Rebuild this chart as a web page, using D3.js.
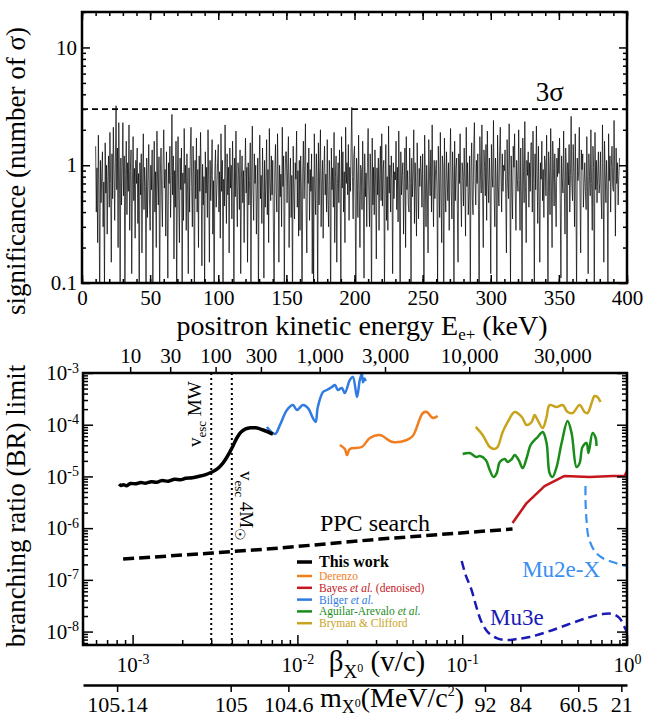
<!DOCTYPE html>
<html>
<head>
<meta charset="utf-8">
<script src="https://cdn.jsdelivr.net/npm/d3@7"></script>
<style>
    body { margin: 0; background: #fff; }
</style>
</head>
<body>
<div id="chart"></div>
<script>
//Panel superior: significancia (número de sigma) cada 0.5 keV desde E_START
const E_START = 10, E_STEP = 0.5;
const significance = [
    1.45, 0.40, 0.95, 0.22, 1.80, 0.65, 0.06, 1.10, 0.48, 0.85, 1.30, 0.30, 0.72, 0.09, 1.55, 0.58, 1.00, 0.26, 0.80, 1.20,
    0.44, 1.90, 0.70, 0.15, 1.25, 0.52, 2.10, 0.88, 0.34, 1.05, 3.20, 0.62, 1.40, 0.20, 2.30, 0.75, 0.08, 1.15, 0.46, 0.95,
    2.30, 0.55, 1.20, 0.07, 0.82, 1.60, 0.38, 1.05, 0.60, 2.20, 0.28, 0.90, 1.35, 0.12, 0.68, 1.75, 0.50, 0.94, 0.24, 1.10,
    0.70, 1.40, 0.32, 0.85, 0.05, 1.05, 0.56, 1.25, 0.18, 0.78, 1.85, 0.42, 0.96, 0.66, 0.10, 1.15, 0.36, 0.74, 1.50, 0.52,
    0.28, 1.00, 0.62, 1.35, 0.09, 0.58, 1.60, 0.40, 0.88, 0.20, 1.95, 0.72, 0.46, 1.18, 0.06, 0.84, 1.40, 0.54, 0.30, 1.05,
    2.00, 0.64, 0.92, 0.25, 1.30, 0.48, 0.11, 1.05, 0.70, 1.45, 0.36, 0.82, 2.70, 0.56, 1.20, 0.16, 0.90, 0.44, 1.60, 0.07,
    0.78, 1.75, 0.50, 0.22, 1.15, 0.62, 1.40, 0.08, 0.86, 0.34, 2.05, 0.70, 1.00, 0.28, 1.25, 0.58, 0.12, 0.95, 0.40, 1.30,
    2.10, 0.66, 0.30, 1.45, 0.84, 0.06, 1.10, 0.52, 1.70, 0.40, 0.92, 0.20, 1.20, 0.60, 1.90, 0.74, 0.14, 1.02, 0.46, 0.80,
    0.09, 1.30, 0.58, 0.96, 0.36, 2.00, 0.68, 0.15, 1.10, 0.50, 0.82, 1.65, 0.26, 0.74, 0.05, 0.90, 1.35, 0.44, 0.62, 1.05,
    1.50, 0.40, 0.88, 0.24, 1.85, 0.60, 1.10, 0.10, 0.76, 0.45, 2.20, 0.80, 0.32, 1.25, 0.56, 0.96, 0.18, 1.40, 0.64, 1.00,
    0.35, 1.60, 0.72, 0.07, 1.15, 0.54, 1.95, 0.66, 0.30, 1.05, 0.84, 0.42, 1.35, 0.12, 0.78, 1.20, 0.48, 0.90, 0.22, 0.80,
    1.70, 0.58, 0.96, 0.15, 1.05, 0.46, 0.74, 1.55, 0.08, 0.86, 2.15, 0.62, 0.34, 1.25, 0.70, 1.00, 0.26, 0.58, 1.15, 0.07,
    0.95, 1.80, 0.52, 0.82, 0.32, 1.40, 0.64, 0.11, 1.10, 0.44, 0.75, 1.65, 0.38, 0.92, 0.22, 2.05, 0.70, 0.50, 1.20, 0.56,
    1.10, 0.28, 0.06, 0.88, 1.50, 0.60, 0.40, 1.85, 0.76, 0.15, 1.00, 0.54, 0.84, 0.30, 2.10, 0.66, 1.20, 0.09, 0.72, 1.30,
    1.30, 0.48, 0.94, 1.75, 0.20, 0.68, 1.15, 0.36, 0.82, 0.07, 1.45, 0.58, 0.35, 1.05, 0.76, 1.95, 0.44, 0.90, 0.25, 1.10,
    0.28, 1.20, 0.62, 0.05, 0.86, 1.60, 0.52, 1.00, 2.25, 0.40, 0.18, 1.05, 0.70, 1.40, 0.34, 0.92, 0.60, 1.25, 0.12, 0.80,
    0.10, 1.85, 0.66, 0.38, 1.25, 0.78, 0.08, 1.55, 0.46, 0.96, 2.00, 0.30, 0.72, 1.10, 0.24, 0.90, 1.45, 0.56, 0.84, 0.40,
    1.65, 0.52, 0.30, 1.10, 0.74, 0.06, 1.40, 0.62, 0.95, 0.44, 1.90, 0.22, 0.80, 1.20, 0.15, 0.70, 1.05, 0.48, 1.35, 0.58,
    0.09, 1.75, 0.64, 1.30, 0.40, 0.88, 0.22, 2.10, 0.70, 1.05, 0.56, 1.50, 0.34, 0.96, 0.60, 1.40, 3.10, 0.80, 0.35, 1.20,
    1.45, 0.50, 0.07, 1.15, 0.78, 0.36, 1.80, 0.62, 0.20, 1.00, 0.92, 0.42, 1.60, 0.66, 0.11, 1.25, 0.54, 0.86, 0.30, 1.05,
    2.05, 0.60, 0.30, 1.25, 0.82, 0.06, 1.70, 0.46, 0.96, 0.38, 1.35, 0.72, 0.16, 0.95, 0.56, 1.15, 0.28, 0.84, 1.45, 0.50,
    1.85, 0.45, 0.90, 1.10, 0.08, 0.66, 1.50, 0.34, 0.80, 0.28, 2.15, 0.58, 1.00, 0.40, 1.20, 0.74, 0.12, 1.05, 0.52, 0.88,
    0.75, 1.60, 0.42, 0.96, 0.33, 1.95, 0.64, 0.05, 1.30, 0.56, 0.82, 1.05, 0.26, 0.70, 1.40, 0.20, 1.75, 0.62, 0.90, 0.46,
    0.40, 1.40, 0.70, 0.09, 1.15, 0.54, 0.86, 2.00, 0.32, 1.05, 0.60, 0.25, 1.55, 0.78, 0.35, 0.94, 0.66, 1.20, 0.85, 0.44,
    1.25, 0.48, 0.07, 1.80, 0.72, 0.30, 1.00, 0.58, 0.18, 1.65, 0.84, 0.55, 1.35, 0.40, 2.20, 0.68, 0.30, 1.10, 0.52, 0.92,
    1.10, 0.62, 0.10, 1.45, 0.80, 0.36, 1.90, 0.56, 0.22, 1.20, 0.96, 0.06, 1.70, 0.64, 0.40, 1.30, 0.76, 0.50, 1.05, 0.28,
    0.95, 2.05, 0.60, 0.35, 1.30, 0.78, 0.08, 1.60, 0.50, 0.94, 1.15, 0.42, 0.15, 1.25, 0.70, 1.85, 0.62, 0.30, 1.05, 0.86,
    0.45, 1.40, 0.74, 0.25, 2.10, 0.66, 1.05, 0.38, 0.60, 1.20, 0.09, 0.88, 1.55, 0.52, 0.38, 1.35, 2.30, 0.72, 0.46, 1.10,
    0.70, 1.25, 0.42, 0.05, 1.75, 0.84, 0.58, 2.20, 0.62, 0.20, 1.35, 0.96, 0.55, 1.50, 0.34, 1.95, 0.76, 0.48, 1.15, 0.68,
    0.12, 1.50, 0.82, 0.65, 2.40, 0.56, 0.30, 1.15, 0.74, 0.07, 1.80, 0.66, 0.45, 1.30, 2.10, 0.86, 0.40, 1.25, 0.60, 1.00,
    0.90, 1.35, 0.52, 0.18, 1.65, 0.70, 0.52, 2.25, 0.80, 0.10, 1.20, 0.62, 0.35, 1.45, 0.96, 1.85, 0.58, 0.28, 1.10, 0.76,
    0.60, 2.00, 0.74, 0.28, 1.40, 0.54, 0.06, 1.70, 0.88, 0.48, 2.35, 0.66, 0.22, 1.10, 0.82, 1.30, 0.44, 1.05, 0.60, 1.55,
    1.55, 0.40, 1.95, 0.70, 0.09, 1.25, 0.62, 2.15, 0.84, 0.32, 1.45, 0.56, 0.15, 1.05, 0.76, 1.60, 0.50, 0.92, 0.36, 1.20,
    1.05, 0.55, 1.80, 0.66, 0.07, 1.30, 0.88, 0.38, 2.05, 0.72, 0.20, 1.60, 0.94, 0.45, 1.25, 0.58, 0.30, 1.15, 0.80, 1.40,
    0.85, 1.70, 0.48, 0.11, 1.20, 0.76, 0.58, 1.95, 0.64, 0.26, 1.40, 0.90, 0.05, 1.05, 0.68, 1.50, 0.40, 0.82, 2.60, 0.70,
    0.50, 1.50, 0.86, 0.30, 1.85, 0.62, 0.08, 1.15, 0.74, 0.88, 2.10, 0.56, 0.18, 1.35, 0.92, 1.25, 0.44, 0.70, 1.05, 0.60,
    0.42, 1.75, 0.66, 0.12, 1.25, 0.80, 0.55, 2.00, 0.70, 0.28, 1.45, 0.96, 0.06, 1.90, 0.62, 1.10, 0.48, 0.84, 1.30, 0.58,
    0.70, 1.30, 0.52, 0.35, 2.20, 0.78, 0.15, 1.60, 0.86, 0.48, 1.10, 0.64, 0.09, 1.85, 0.74, 1.20, 0.40, 0.96, 1.45, 0.66,
    0.60, 2.40, 0.82, 0.25, 1.40, 0.70, 1.05, 0.46, 0.80, 1.15
];
const SIGMA_LEVEL = 3;
const energyTicks = [0, 50, 100, 150, 200, 250, 300, 350, 400];
const sigTicks = [0.1, 1, 10];
const sigLabels = ['0.1', '1', '10'];

//Panel inferior: pares [beta, BR]
const thisWork = [
    [8.28e-4, 7.1e-6], [8.5e-4, 6.7e-6], [8.8e-4, 6.9e-6], [9.2e-4, 6.6e-6], [9.7e-4, 7.3e-6],
    [1.05e-3, 7.2e-6], [1.12e-3, 7.6e-6], [1.2e-3, 7.4e-6], [1.3e-3, 7.9e-6], [1.4e-3, 7.7e-6],
    [1.5e-3, 8.3e-6], [1.65e-3, 8.1e-6], [1.8e-3, 8.8e-6], [1.95e-3, 8.6e-6], [2.1e-3, 9.2e-6],
    [2.3e-3, 9.4e-6], [2.5e-3, 1.0e-5], [2.75e-3, 1.07e-5], [3.03e-3, 1.22e-5], [3.25e-3, 1.38e-5],
    [3.45e-3, 1.65e-5], [3.65e-3, 2.1e-5], [3.85e-3, 2.8e-5], [4.05e-3, 3.8e-5], [4.3e-3, 5.6e-5],
    [4.55e-3, 7.2e-5], [4.85e-3, 8.3e-5], [5.2e-3, 8.7e-5], [5.6e-3, 8.7e-5], [6.2e-3, 7.9e-5],
    [7.1e-3, 6.6e-5]
];
const ppcSearch = [[8.76e-4, 2.52e-7], [3.03e-3, 3.3e-7], [7.83e-3, 4.12e-7], [3.16e-2, 6.15e-7], [0.202, 9.62e-7]];
const derenzo = [
    [1.81e-2, 4.05e-5], [1.94e-2, 3.39e-5], [2.0e-2, 2.59e-5], [2.08e-2, 3.39e-5], [2.46e-2, 3.71e-5],
    [2.75e-2, 5.53e-5], [3.16e-2, 6.32e-5], [3.79e-2, 4.63e-5], [4.61e-2, 5.06e-5], [5.01e-2, 6.04e-5],
    [5.77e-2, 1.68e-4], [6.10e-2, 1.76e-4], [6.63e-2, 1.35e-4], [7.10e-2, 1.47e-4]
];
const bayes = [[0.202, 1.26e-6], [0.246, 3.05e-6], [0.316, 6.52e-6], [0.418, 1.02e-5], [0.593, 9.73e-6], [0.817, 1.02e-5], [0.966, 1.02e-5], [1.0, 1.27e-5]];
const bilger = [
    [6.53e-3, 9.0e-5], [7.31e-3, 6.6e-5], [7.84e-3, 9.9e-5], [8.64e-3, 1.92e-4], [9.39e-3, 2.40e-4],
    [9.93e-3, 1.92e-4], [1.08e-2, 2.40e-4], [1.16e-2, 2.10e-4], [1.24e-2, 1.35e-4], [1.29e-2, 1.13e-4],
    [1.33e-2, 2.20e-4], [1.43e-2, 4.29e-4], [1.51e-2, 4.69e-4], [1.62e-2, 5.36e-4], [1.69e-2, 5.86e-4],
    [1.76e-2, 4.69e-4], [1.86e-2, 5.13e-4], [1.94e-2, 4.10e-4], [2.08e-2, 7.33e-4], [2.17e-2, 8.37e-4],
    [2.30e-2, 3.43e-4], [2.39e-2, 7.33e-4], [2.46e-2, 9.8e-4], [2.50e-2, 6.6e-4], [2.55e-2, 7.8e-4],
    [2.60e-2, 7.0e-4]
];
const aguilar = [
    [0.1007, 2.71e-5], [0.111, 2.84e-5], [0.122, 2.37e-5], [0.128, 2.48e-5], [0.139, 2.08e-5],
    [0.147, 1.33e-5], [0.155, 9.73e-6], [0.162, 1.16e-5], [0.169, 1.90e-5], [0.181, 2.17e-5],
    [0.189, 1.90e-5], [0.200, 2.17e-5], [0.208, 2.59e-5], [0.220, 2.08e-5], [0.233, 1.45e-5],
    [0.246, 2.27e-5], [0.260, 4.05e-5], [0.275, 5.06e-5], [0.287, 5.78e-5], [0.308, 7.22e-5],
    [0.325, 4.43e-5], [0.339, 1.16e-5], [0.353, 9.73e-6], [0.374, 1.52e-5], [0.401, 4.43e-5],
    [0.436, 1.18e-4], [0.461, 6.90e-5], [0.494, 1.52e-5], [0.516, 1.82e-5], [0.537, 3.71e-5],
    [0.568, 4.43e-5], [0.584, 2.84e-5], [0.618, 6.90e-5], [0.645, 5.53e-5], [0.653, 3.87e-5]
];
const bryman = [
    [0.1208, 9.04e-5], [0.133, 6.32e-5], [0.147, 3.71e-5], [0.157, 3.39e-5], [0.164, 3.71e-5],
    [0.176, 7.22e-5], [0.189, 1.13e-4], [0.208, 1.76e-4], [0.230, 1.41e-4], [0.246, 9.86e-5],
    [0.264, 1.13e-4], [0.275, 1.54e-4], [0.287, 1.23e-4], [0.308, 8.63e-5], [0.325, 1.41e-4],
    [0.339, 2.40e-4], [0.374, 2.20e-4], [0.407, 2.40e-4], [0.436, 1.76e-4], [0.468, 1.68e-4],
    [0.516, 2.40e-4], [0.553, 1.76e-4], [0.576, 1.68e-4], [0.610, 2.63e-4], [0.636, 3.59e-4],
    [0.662, 3.43e-4], [0.691, 2.75e-4]
];
const mu3e = [
    [0.0993, 2.31e-7], [0.105, 1.24e-7], [0.114, 6.35e-8], [0.122, 2.98e-8], [0.131, 1.53e-8],
    [0.143, 9.78e-9], [0.162, 7.48e-9], [0.186, 6.85e-9], [0.214, 7.16e-9], [0.256, 7.83e-9],
    [0.325, 9.78e-9], [0.430, 1.34e-8], [0.568, 1.82e-8], [0.711, 2.18e-8], [0.817, 2.18e-8],
    [0.901, 1.82e-8], [0.966, 1.22e-8], [1.0, 9.8e-9]
];
const mu2eX = [
    [0.560, 6.52e-6], [0.560, 3.50e-6], [0.568, 1.44e-6], [0.584, 6.73e-7], [0.636, 3.61e-7],
    [0.711, 2.64e-7], [0.817, 2.21e-7], [0.940, 1.93e-7], [1.0, 1.85e-7]
];
const VESC_MW = 3.0e-3, VESC_4M = 4.0e-3;
const keTicks = [10, 30, 100, 300, 1000, 3000, 10000, 30000];
const massTicks = [105.14, 105, 104.6, 92, 84, 60.5, 21];

//Colores
const C_DERENZO = '#f07d1e', C_BAYES = '#c4161c', C_BILGER = '#2f7be0',
    C_AGUILAR = '#1a8c1a', C_BRYMAN = '#c9a31b', C_MU3E = '#1a1ab5', C_MU2E = '#3a8ff0';
const FONT = 'Liberation Serif';

//Cinemática mu+ -> e+ X0 (MeV)
const M_MU = 105.658, M_E = 0.511;
function betaFromMass(m) {
    let a = M_MU * M_MU;
    let p = Math.sqrt((a - (m + M_E) ** 2) * (a - (m - M_E) ** 2)) / (2 * M_MU);
    let e = (a + m * m - M_E * M_E) / (2 * M_MU);
    return p / e;
}
function betaFromKE(tKeV) {
    let t = tKeV / 1000;
    let p = Math.sqrt(t * t + 2 * t * M_E);
    return p / (M_MU - t - M_E);
}

let svg = d3.select('#chart').append('svg')
    .attr('width', 645)
    .attr('height', 719)
    .attr('font-family', FONT);

function styleAxis(g) {
    g.select('.domain').remove();
    g.selectAll('.tick line').attr('stroke', '#000').attr('stroke-width', 1.5);
    g.attr('font-family', FONT).attr('font-size', 21);
    g.selectAll('.tick text').attr('fill', '#000');
}
function isDecade(v) {
    let l = Math.log10(v);
    return Math.abs(l - Math.round(l)) < 1e-6;
}
function powLabel(g) {
    g.selectAll('.tick text').each(function(d) {
        let t = d3.select(this);
        t.text(null);
        t.append('tspan').text('10');
        t.append('tspan').attr('dy', '-0.55em').attr('font-size', '14px').text(Math.round(Math.log10(d)));
    });
}

///// PANEL SUPERIOR
let xE = d3.scaleLinear().domain([0, 400]).range([82, 627]);
let yS = d3.scaleLog().domain([0.1, 20]).range([283, 12]);

svg.append('clipPath').attr('id', 'clipTop')
    .append('rect').attr('x', 82).attr('y', 12).attr('width', 545).attr('height', 271);

svg.append('path')
    .datum(significance)
    .attr('clip-path', 'url(#clipTop)')
    .attr('fill', 'none')
    .attr('stroke', '#000')
    .attr('stroke-width', 0.7)
    .attr('d', d3.line()
        .x(function(d, i) { return xE(E_START + i * E_STEP); })
        .y(function(d) { return yS(d); }));

svg.append('line')
    .attr('x1', xE(0)).attr('x2', xE(400))
    .attr('y1', yS(SIGMA_LEVEL)).attr('y2', yS(SIGMA_LEVEL))
    .attr('stroke', '#000').attr('stroke-width', 1.8).attr('stroke-dasharray', '6,4');

svg.append('text')
    .attr('x', xE(333)).attr('y', yS(SIGMA_LEVEL) - 8)
    .attr('font-size', 27)
    .text('3σ');

let minorE = d3.range(0, 401, 10);
let minorS = yS.ticks().filter(function(d) { return !isDecade(d); });

svg.append('g').attr('transform', 'translate(0,283)')
    .call(d3.axisBottom(xE).tickValues(minorE).tickSize(-4).tickFormat(''))
    .call(styleAxis);
svg.append('g').attr('transform', 'translate(0,283)')
    .call(d3.axisBottom(xE).tickValues(energyTicks).tickSize(-8).tickPadding(7))
    .call(styleAxis);
svg.append('g').attr('transform', 'translate(0,12)')
    .call(d3.axisTop(xE).tickValues(minorE).tickSize(-4).tickFormat(''))
    .call(styleAxis);
svg.append('g').attr('transform', 'translate(0,12)')
    .call(d3.axisTop(xE).tickValues(energyTicks).tickSize(-8).tickFormat(''))
    .call(styleAxis);
svg.append('g').attr('transform', 'translate(82,0)')
    .call(d3.axisLeft(yS).tickValues(minorS).tickSize(-4).tickFormat(''))
    .call(styleAxis);
svg.append('g').attr('transform', 'translate(82,0)')
    .call(d3.axisLeft(yS).tickValues(sigTicks).tickSize(-8).tickPadding(5)
        .tickFormat(function(d, i) { return sigLabels[i]; }))
    .call(styleAxis);
svg.append('g').attr('transform', 'translate(627,0)')
    .call(d3.axisRight(yS).tickValues(minorS).tickSize(-4).tickFormat(''))
    .call(styleAxis);
svg.append('g').attr('transform', 'translate(627,0)')
    .call(d3.axisRight(yS).tickValues(sigTicks).tickSize(-8).tickFormat(''))
    .call(styleAxis);

svg.append('rect')
    .attr('x', 82).attr('y', 12).attr('width', 545).attr('height', 271)
    .attr('fill', 'none').attr('stroke', '#000').attr('stroke-width', 2.5);

let tE = svg.append('text').attr('x', 362).attr('y', 335).attr('text-anchor', 'middle').attr('font-size', 28);
tE.append('tspan').text('positron kinetic energy E');
tE.append('tspan').attr('dy', 5).attr('font-size', 17).text('e+');
tE.append('tspan').attr('dy', -5).text(' (keV)');

svg.append('text')
    .attr('transform', 'translate(25,171) rotate(-90)')
    .attr('text-anchor', 'middle').attr('font-size', 27)
    .text('significance (number of σ)');

///// PANEL INFERIOR
let xB = d3.scaleLog().domain([5e-4, 1]).range([83, 627]);
let yB = d3.scaleLog().domain([5.5e-9, 1e-3]).range([645, 373]);

svg.append('clipPath').attr('id', 'clipBot')
    .append('rect').attr('x', 83).attr('y', 373).attr('width', 544).attr('height', 272);

let gB = svg.append('g').attr('clip-path', 'url(#clipBot)');

let lineLin = d3.line().x(function(d) { return xB(d[0]); }).y(function(d) { return yB(d[1]); });
let lineSmooth = d3.line().x(function(d) { return xB(d[0]); }).y(function(d) { return yB(d[1]); })
    .curve(d3.curveCatmullRom.alpha(0.5));

//Velocidades de escape
[VESC_MW, VESC_4M].forEach(function(v) {
    gB.append('line')
        .attr('x1', xB(v)).attr('x2', xB(v))
        .attr('y1', 373).attr('y2', 645)
        .attr('stroke', '#000').attr('stroke-width', 2).attr('stroke-dasharray', '2,3');
});

let curves = [
    { data: bryman, color: C_BRYMAN, w: 2.5, line: lineSmooth },
    { data: aguilar, color: C_AGUILAR, w: 2.5, line: lineSmooth },
    { data: derenzo, color: C_DERENZO, w: 2.5, line: lineSmooth },
    { data: bilger, color: C_BILGER, w: 2.5, line: lineSmooth },
    { data: bayes, color: C_BAYES, w: 2.5, line: lineLin },
    { data: ppcSearch, color: '#000', w: 3.5, line: lineLin, dash: '11,5' },
    { data: mu3e, color: C_MU3E, w: 2.5, line: lineSmooth, dash: '9,5' },
    { data: mu2eX, color: C_MU2E, w: 2.2, line: lineSmooth, dash: '9,5' },
    { data: thisWork, color: '#000', w: 3.5, line: lineSmooth }
];
curves.forEach(function(c) {
    gB.append('path')
        .datum(c.data)
        .attr('fill', 'none')
        .attr('stroke', c.color)
        .attr('stroke-width', c.w)
        .attr('stroke-linejoin', 'round')
        .attr('stroke-dasharray', c.dash || null)
        .attr('d', c.line);
});

//Textos dentro del gráfico
svg.append('text').attr('x', xB(1.37e-2)).attr('y', yB(8.8e-7)).attr('font-size', 24).text('PPC search');
svg.append('text').attr('x', xB(0.231)).attr('y', yB(1.13e-7)).attr('font-size', 23).attr('fill', C_MU2E).text('Mu2e-X');
svg.append('text').attr('x', xB(0.1475)).attr('y', yB(1.34e-8)).attr('font-size', 23).attr('fill', C_MU3E).text('Mu3e');

let tMW = svg.append('text')
    .attr('transform', 'translate(' + (xB(VESC_MW) - 10) + ',447) rotate(-90)')
    .attr('font-size', 19);
tMW.append('tspan').text('v');
tMW.append('tspan').attr('dy', 5).attr('font-size', 13).text('esc');
tMW.append('tspan').attr('dy', -5).text(' MW');

let t4M = svg.append('text')
    .attr('transform', 'translate(' + (xB(VESC_4M) + 8) + ',471) rotate(90)')
    .attr('font-size', 19);
t4M.append('tspan').text('v');
t4M.append('tspan').attr('dy', 5).attr('font-size', 13).text('esc');
t4M.append('tspan').attr('dy', -5).text(' 4M');
t4M.append('tspan').attr('dy', 5).attr('font-size', 14).text('☉');

//Leyenda
let legendItems = [
    { parts: [['This work', false]], color: '#000', bold: true },
    { parts: [['Derenzo', false]], color: C_DERENZO },
    { parts: [['Bayes ', false], ['et al.', true], [' (denoised)', false]], color: C_BAYES },
    { parts: [['Bilger ', false], ['et al.', true]], color: C_BILGER },
    { parts: [['Aguilar-Arevalo ', false], ['et al.', true]], color: C_AGUILAR },
    { parts: [['Bryman & Clifford', false]], color: C_BRYMAN }
];
legendItems.forEach(function(item, i) {
    let y = i == 0 ? 567 : 580 + (i - 1) * 11.8;
    svg.append('line')
        .attr('x1', 297).attr('x2', 312)
        .attr('y1', y - (item.bold ? 5 : 4)).attr('y2', y - (item.bold ? 5 : 4))
        .attr('stroke', item.color).attr('stroke-width', item.bold ? 3.5 : 2.5);
    let t = svg.append('text')
        .attr('x', 319).attr('y', y)
        .attr('fill', item.color)
        .attr('font-size', item.bold ? 16 : 11.5)
        .attr('font-weight', item.bold ? 'bold' : 'normal');
    item.parts.forEach(function(p) {
        t.append('tspan').attr('font-style', p[1] ? 'italic' : 'normal').text(p[0]);
    });
});

//Ejes panel inferior
let minorB = xB.ticks().filter(function(d) { return !isDecade(d); });
let majorB = xB.ticks().filter(isDecade);
let minorBR = yB.ticks().filter(function(d) { return !isDecade(d); });
let majorBR = yB.ticks().filter(isDecade);

svg.append('g').attr('transform', 'translate(0,645)')
    .call(d3.axisBottom(xB).tickValues(minorB).tickSize(-5).tickFormat(''))
    .call(styleAxis);
svg.append('g').attr('transform', 'translate(0,645)')
    .call(d3.axisBottom(xB).tickValues(majorB).tickSize(-10).tickPadding(12))
    .call(styleAxis)
    .call(powLabel);
svg.append('g').attr('transform', 'translate(83,0)')
    .call(d3.axisLeft(yB).tickValues(minorBR).tickSize(-5).tickFormat(''))
    .call(styleAxis);
svg.append('g').attr('transform', 'translate(83,0)')
    .call(d3.axisLeft(yB).tickValues(majorBR).tickSize(-10).tickPadding(4))
    .call(styleAxis)
    .call(powLabel);
svg.append('g').attr('transform', 'translate(627,0)')
    .call(d3.axisRight(yB).tickValues(minorBR).tickSize(-5).tickFormat(''))
    .call(styleAxis);
svg.append('g').attr('transform', 'translate(627,0)')
    .call(d3.axisRight(yB).tickValues(majorBR).tickSize(-10).tickFormat(''))
    .call(styleAxis);

//Eje superior: energía cinética del positrón (keV)
svg.append('g').attr('transform', 'translate(0,373)')
    .call(d3.axisTop(xB).tickValues(keTicks.map(betaFromKE)).tickSize(6).tickPadding(4)
        .tickFormat(function(d, i) { return d3.format(',')(keTicks[i]); }))
    .call(styleAxis);

svg.append('rect')
    .attr('x', 83).attr('y', 373).attr('width', 544).attr('height', 272)
    .attr('fill', 'none').attr('stroke', '#000').attr('stroke-width', 2.5);

//Eje de masas
let gM = svg.append('g').attr('transform', 'translate(0,685)')
    .call(d3.axisBottom(xB).tickValues(massTicks.map(betaFromMass)).tickSize(7).tickSizeOuter(0).tickPadding(4)
        .tickFormat(function(d, i) { return massTicks[i]; }));
gM.attr('font-family', FONT).attr('font-size', 22);
gM.select('.domain').attr('stroke', '#000').attr('stroke-width', 2.5);
gM.selectAll('.tick line').attr('stroke', '#000').attr('stroke-width', 1.5);
gM.selectAll('.tick text').attr('fill', '#000');

let tBeta = svg.append('text').attr('x', 377).attr('y', 671).attr('text-anchor', 'middle').attr('font-size', 29);
tBeta.append('tspan').text('β');
tBeta.append('tspan').attr('dy', 7).attr('font-size', 19).text('X');
tBeta.append('tspan').attr('dy', -6).attr('font-size', 12).text('0');
tBeta.append('tspan').attr('dy', -1).text(' (v/c)');

let tMass = svg.append('text').attr('x', 392).attr('y', 707).attr('text-anchor', 'middle').attr('font-size', 28);
tMass.append('tspan').text('m');
tMass.append('tspan').attr('dy', 6).attr('font-size', 18).text('X');
tMass.append('tspan').attr('dy', -6).attr('font-size', 12).text('0');
tMass.append('tspan').text('(MeV/c');
tMass.append('tspan').attr('dy', -11).attr('font-size', 14).text('2');
tMass.append('tspan').attr('dy', 11).text(')');

svg.append('text')
    .attr('transform', 'translate(25,506) rotate(-90)')
    .attr('text-anchor', 'middle').attr('font-size', 27)
    .text('branching ratio (BR) limit');
</script>
</body>
</html>
